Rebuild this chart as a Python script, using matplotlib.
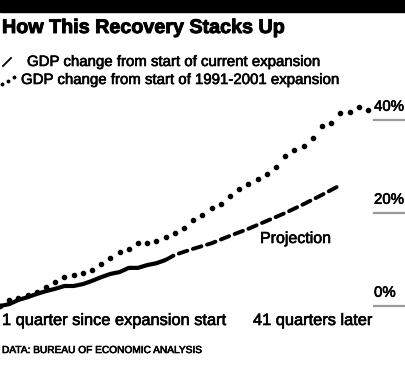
import matplotlib
matplotlib.use("Agg")
import matplotlib.pyplot as plt
import matplotlib.patheffects as pe
from matplotlib.lines import Line2D

# -----------------------------------
# Data (percent GDP change since expansion start)
# -----------------------------------
quarters_1991 = list(range(1, 42))
gdp_1991 = [0.0, 1.3, 1.7, 2.4, 3.0, 4.1, 5.2, 6.2, 6.7, 7.1,
            7.7, 9.0, 10.3, 11.6, 12.3, 13.5, 13.5, 14.0, 14.8, 15.7,
            16.8, 18.5, 19.6, 21.1, 21.9, 23.7, 25.2, 26.2, 27.3, 28.4,
            29.9, 32.3, 33.5, 34.4, 36.1, 38.7, 39.3, 41.5, 41.7, 42.8,
            42.1]

quarters_current = list(range(1, 20))
gdp_current = [0.0, 0.4, 1.3, 1.9, 2.6, 3.2, 3.7, 4.3, 4.3, 4.7,
               5.4, 6.2, 6.9, 7.3, 8.2, 8.2, 8.8, 9.2, 9.9]

quarters_proj = [19, 20, 22, 24, 26, 28, 30, 32, 34, 36, 38]
gdp_proj = [9.9, 11.0, 12.3, 13.5, 15.1, 16.6, 18.3, 20.0, 21.9, 23.9, 26.0]

y_ticks = [0, 20, 40]
y_tick_labels = ["0%", "20%", "40%"]

FONT = "Liberation Sans"
W, H = 405, 390
# thicken regular text a little (reference uses a medium weight)
MED = [pe.withStroke(linewidth=0.45, foreground="black")]


def fy(px):
    # pixel from top -> figure fraction
    return 1 - px / H


def fx(px):
    return px / W


def label(x, y, s, size, **kw):
    return fig.text(fx(x), fy(y), s, fontsize=size, family=FONT,
                    va="baseline", path_effects=MED, **kw)


fig = plt.figure(figsize=(W / 100, H / 100), dpi=100)

# black bar on top
fig.patches.append(plt.Rectangle((0, fy(12)), 1, 12 / H, transform=fig.transFigure,
                                 color="black", zorder=0))

fig.text(fx(2), fy(33), "How This Recovery Stacks Up", fontsize=14.2,
         fontweight="bold", family=FONT, va="baseline",
         path_effects=[pe.withStroke(linewidth=0.7, foreground="black")])

# legend
fig.add_artist(Line2D([fx(3), fx(11)], [fy(66), fy(58)], color="black", lw=1.3,
                      transform=fig.transFigure))
label(27, 66, "GDP change from start of current expansion", 10.8)
fig.add_artist(Line2D([fx(2), fx(8), fx(14)], [fy(84), fy(81), fy(77)], ls="none",
                      marker="o", ms=1.8, color="black", transform=fig.transFigure))
label(21, 84, "GDP change from start of 1991-2001 expansion", 10.8)

# -----------------------------------
# Chart
# -----------------------------------
px_per_q = 9.2
px_per_pct = 4.65
top_px, bot_px = 95, 312
ax = fig.add_axes([0, fy(bot_px), 1, (bot_px - top_px) / H])
ax.set_xlim(1, 1 + W / px_per_q)
ax.set_ylim((306 - bot_px) / px_per_pct, (306 - top_px) / px_per_pct)
ax.axis("off")

for t, lab in zip(y_ticks, y_tick_labels):
    ax.axhline(t, xmin=374 / W, xmax=1, color="#999999", lw=1.6)
    ax.annotate(lab, (374 / W, t), xycoords=("axes fraction", "data"),
                xytext=(0, 4.5), textcoords="offset points", fontsize=10.8,
                family=FONT, va="bottom", ha="left", path_effects=MED)

ax.plot(quarters_1991, gdp_1991, ls="none", marker="o", ms=3.0, color="black",
        clip_on=False)
ax.plot(quarters_current, gdp_current, color="black", lw=3.0,
        solid_capstyle="butt", clip_on=False)
ax.plot(quarters_proj, gdp_proj, color="black", lw=2.8, dashes=(2.3, 1.5),
        dash_capstyle="round", clip_on=False)

label(260, 243, "Projection", 11.5)
label(2, 325, "1 quarter since expansion start", 11.8)
label(253, 325, "41 quarters later", 11.8)
label(2, 353, "DATA: BUREAU OF ECONOMIC ANALYSIS", 7.3)

fig.savefig("out.png", dpi=100)
